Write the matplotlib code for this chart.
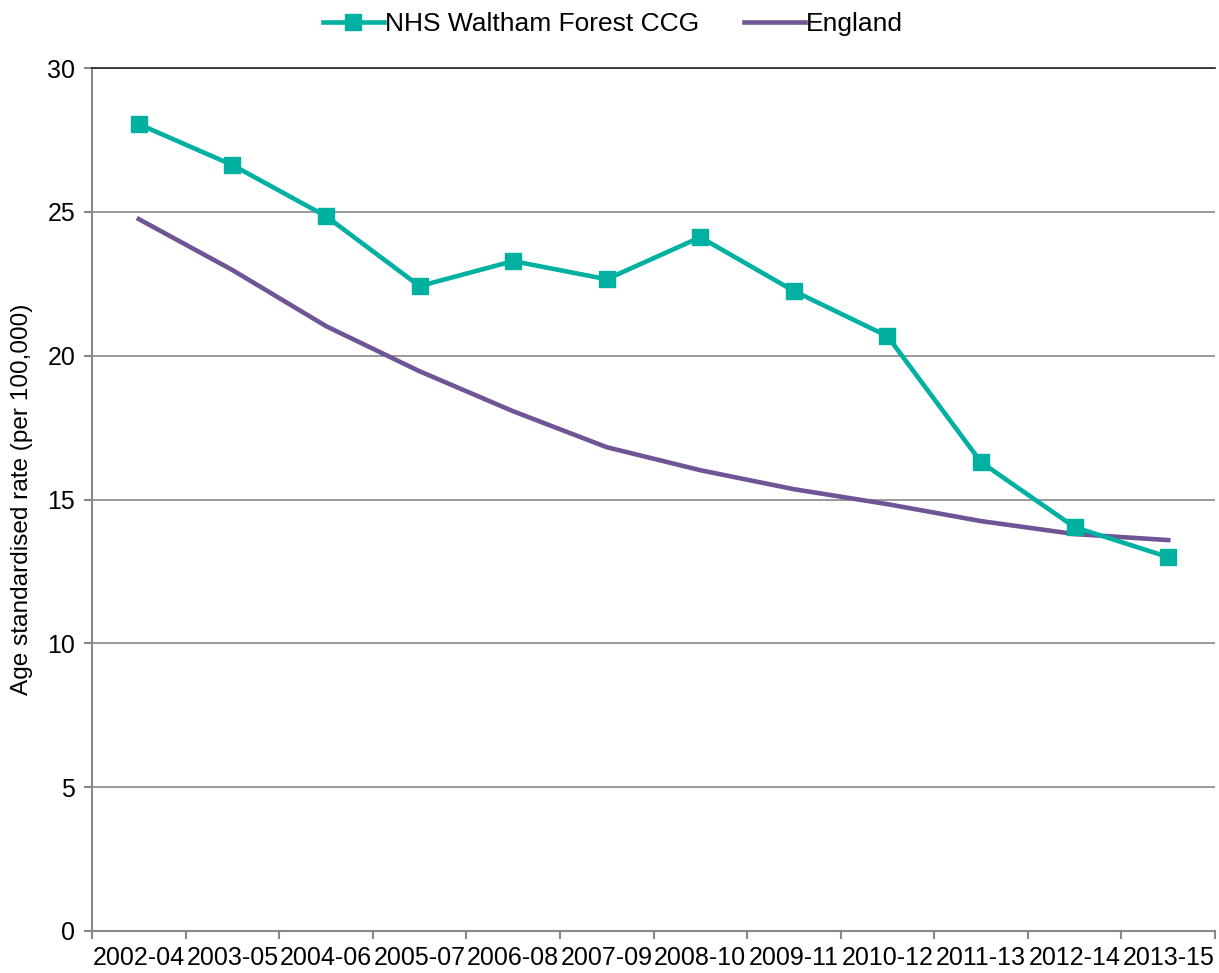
import matplotlib
matplotlib.use("Agg")
import matplotlib.pyplot as plt
import numpy as np

periods = ["2002-04", "2003-05", "2004-06", "2005-07", "2006-08", "2007-09",
           "2008-10", "2009-11", "2010-12", "2011-13", "2012-14", "2013-15"]
waltham = [28.05, 26.63, 24.85, 22.42, 23.29, 22.66, 24.12, 22.25, 20.68, 16.30, 14.04, 13.00]
england = [24.75, 22.98, 21.03, 19.46, 18.07, 16.82, 16.02, 15.36, 14.84, 14.25, 13.80, 13.59]

plt.rcParams['font.family'] = ['Liberation Sans', 'DejaVu Sans']

fig = plt.figure(figsize=(12.19, 9.73), dpi=100)
ax = fig.add_axes([0.0755, 0.0432, 0.9212, 0.8868])

x = np.arange(len(periods))
ax.plot(x, waltham, color="#00B0A0", lw=3.3, marker="s", ms=11, label="NHS Waltham Forest CCG", zorder=3)
ax.plot(x, england, color="#6F5596", lw=3.3, label="England", zorder=2)

ax.set_xlim(-0.5, len(periods) - 0.5)
ax.set_ylim(0, 30)
ax.set_yticks(np.arange(0, 31, 5))
ax.set_xticks(x)
ax.set_xticklabels(periods, fontsize=18)
ax.set_xticks(np.arange(-0.5, len(periods), 1), minor=True)
ax.tick_params(axis='x', which='major', length=0, pad=11)
ax.tick_params(axis='x', which='minor', length=6, width=1.5, color="#888888")
ax.tick_params(axis='y', length=6, width=1.5, color="#888888", labelsize=18, pad=6)
ax.yaxis.grid(True, color="#888888", lw=1.2)
ax.set_axisbelow(True)
ax.spines['right'].set_visible(False)
ax.spines['top'].set_color("#222222")
ax.spines['top'].set_linewidth(1.2)
for s in ['left', 'bottom']:
    ax.spines[s].set_color("#888888")
    ax.spines[s].set_linewidth(1.5)
ax.set_ylabel("Age standardised rate (per 100,000)", fontsize=17.6, labelpad=10)

fig.legend(loc="upper center", bbox_to_anchor=(0.503, 1.012), ncol=2, frameon=False,
           fontsize=19, handlelength=2.3, columnspacing=1.7, handletextpad=0.05)

fig.savefig("out.png", dpi=100)
